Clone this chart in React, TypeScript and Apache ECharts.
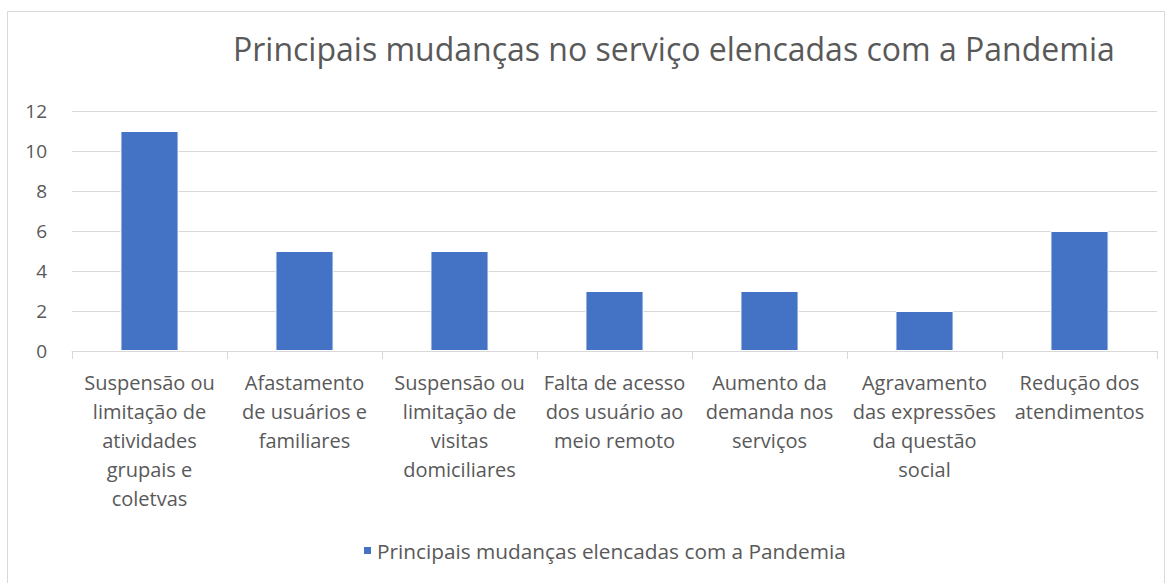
import React, { useEffect, useRef } from "react";
import * as echarts from "echarts";

const title = "Principais mudanças no serviço elencadas com a Pandemia";
const seriesName = "Principais mudanças elencadas com a Pandemia";
const categories = [
  "Suspensão ou\nlimitação de\natividades\ngrupais e\ncoletvas",
  "Afastamento\nde usuários e\nfamiliares",
  "Suspensão ou\nlimitação de\nvisitas\ndomiciliares",
  "Falta de acesso\ndos usuário ao\nmeio remoto",
  "Aumento da\ndemanda nos\nserviços",
  "Agravamento\ndas expressões\nda questão\nsocial",
  "Redução dos\natendimentos",
];
const values = [11, 5, 5, 3, 3, 2, 6];
const yTicks = { min: 0, max: 12, interval: 2 };

export default function App() {
  const ref = useRef<HTMLDivElement>(null);
  useEffect(() => {
    document.body.style.margin = "0";
    const chart = echarts.init(ref.current!, null, { renderer: "svg" });
    const font = "'Open Sans', 'Noto Sans', sans-serif";
    chart.setOption({
      animation: false,
      backgroundColor: "#ffffff",
      textStyle: { fontFamily: font },
      graphic: [
        {
          type: "rect",
          shape: { x: 7.5, y: 11.5, width: 1157, height: 600 },
          style: { fill: "none", stroke: "#d9d9d9", lineWidth: 1 },
          silent: true,
        },
      ],
      title: {
        text: title,
        left: 228,
        top: 27,
        textStyle: { fontFamily: font, fontSize: 32, fontWeight: "normal", color: "#595959" },
      },
      legend: {
        bottom: 17,
        left: 357,
        itemWidth: 9,
        itemHeight: 9,
        itemGap: 8,
        icon: "rect",
        textStyle: { fontFamily: font, fontSize: 20.8, color: "#595959" },
        data: [seriesName],
      },
      grid: { left: 72, right: 16, top: 111, bottom: 232, containLabel: false },
      xAxis: {
        type: "category",
        data: categories,
        axisLine: { lineStyle: { color: "#d9d9d9" } },
        axisTick: { show: true, length: 8, lineStyle: { color: "#d9d9d9" } },
        axisLabel: {
          interval: 0,
          color: "#595959",
          fontFamily: font,
          fontSize: 20,
          lineHeight: 29,
          margin: 17,
        },
      },
      yAxis: {
        type: "value",
        min: yTicks.min,
        max: yTicks.max,
        interval: yTicks.interval,
        axisLine: { show: false },
        axisTick: { show: false },
        splitLine: { lineStyle: { color: "#d9d9d9" } },
        axisLabel: { color: "#595959", fontFamily: font, fontSize: 19, margin: 25 },
      },
      series: [
        {
          name: seriesName,
          type: "bar",
          data: values,
          barWidth: "37.5%",
          itemStyle: { color: "#4472C4", borderColor: "#ffffff", borderWidth: 1 },
        },
      ],
    });
    return () => chart.dispose();
  }, []);
  return (
    <div
      ref={ref}
      style={{ position: "absolute", left: 0, top: 0, width: 1173, height: 583 }}
    />
  );
}
